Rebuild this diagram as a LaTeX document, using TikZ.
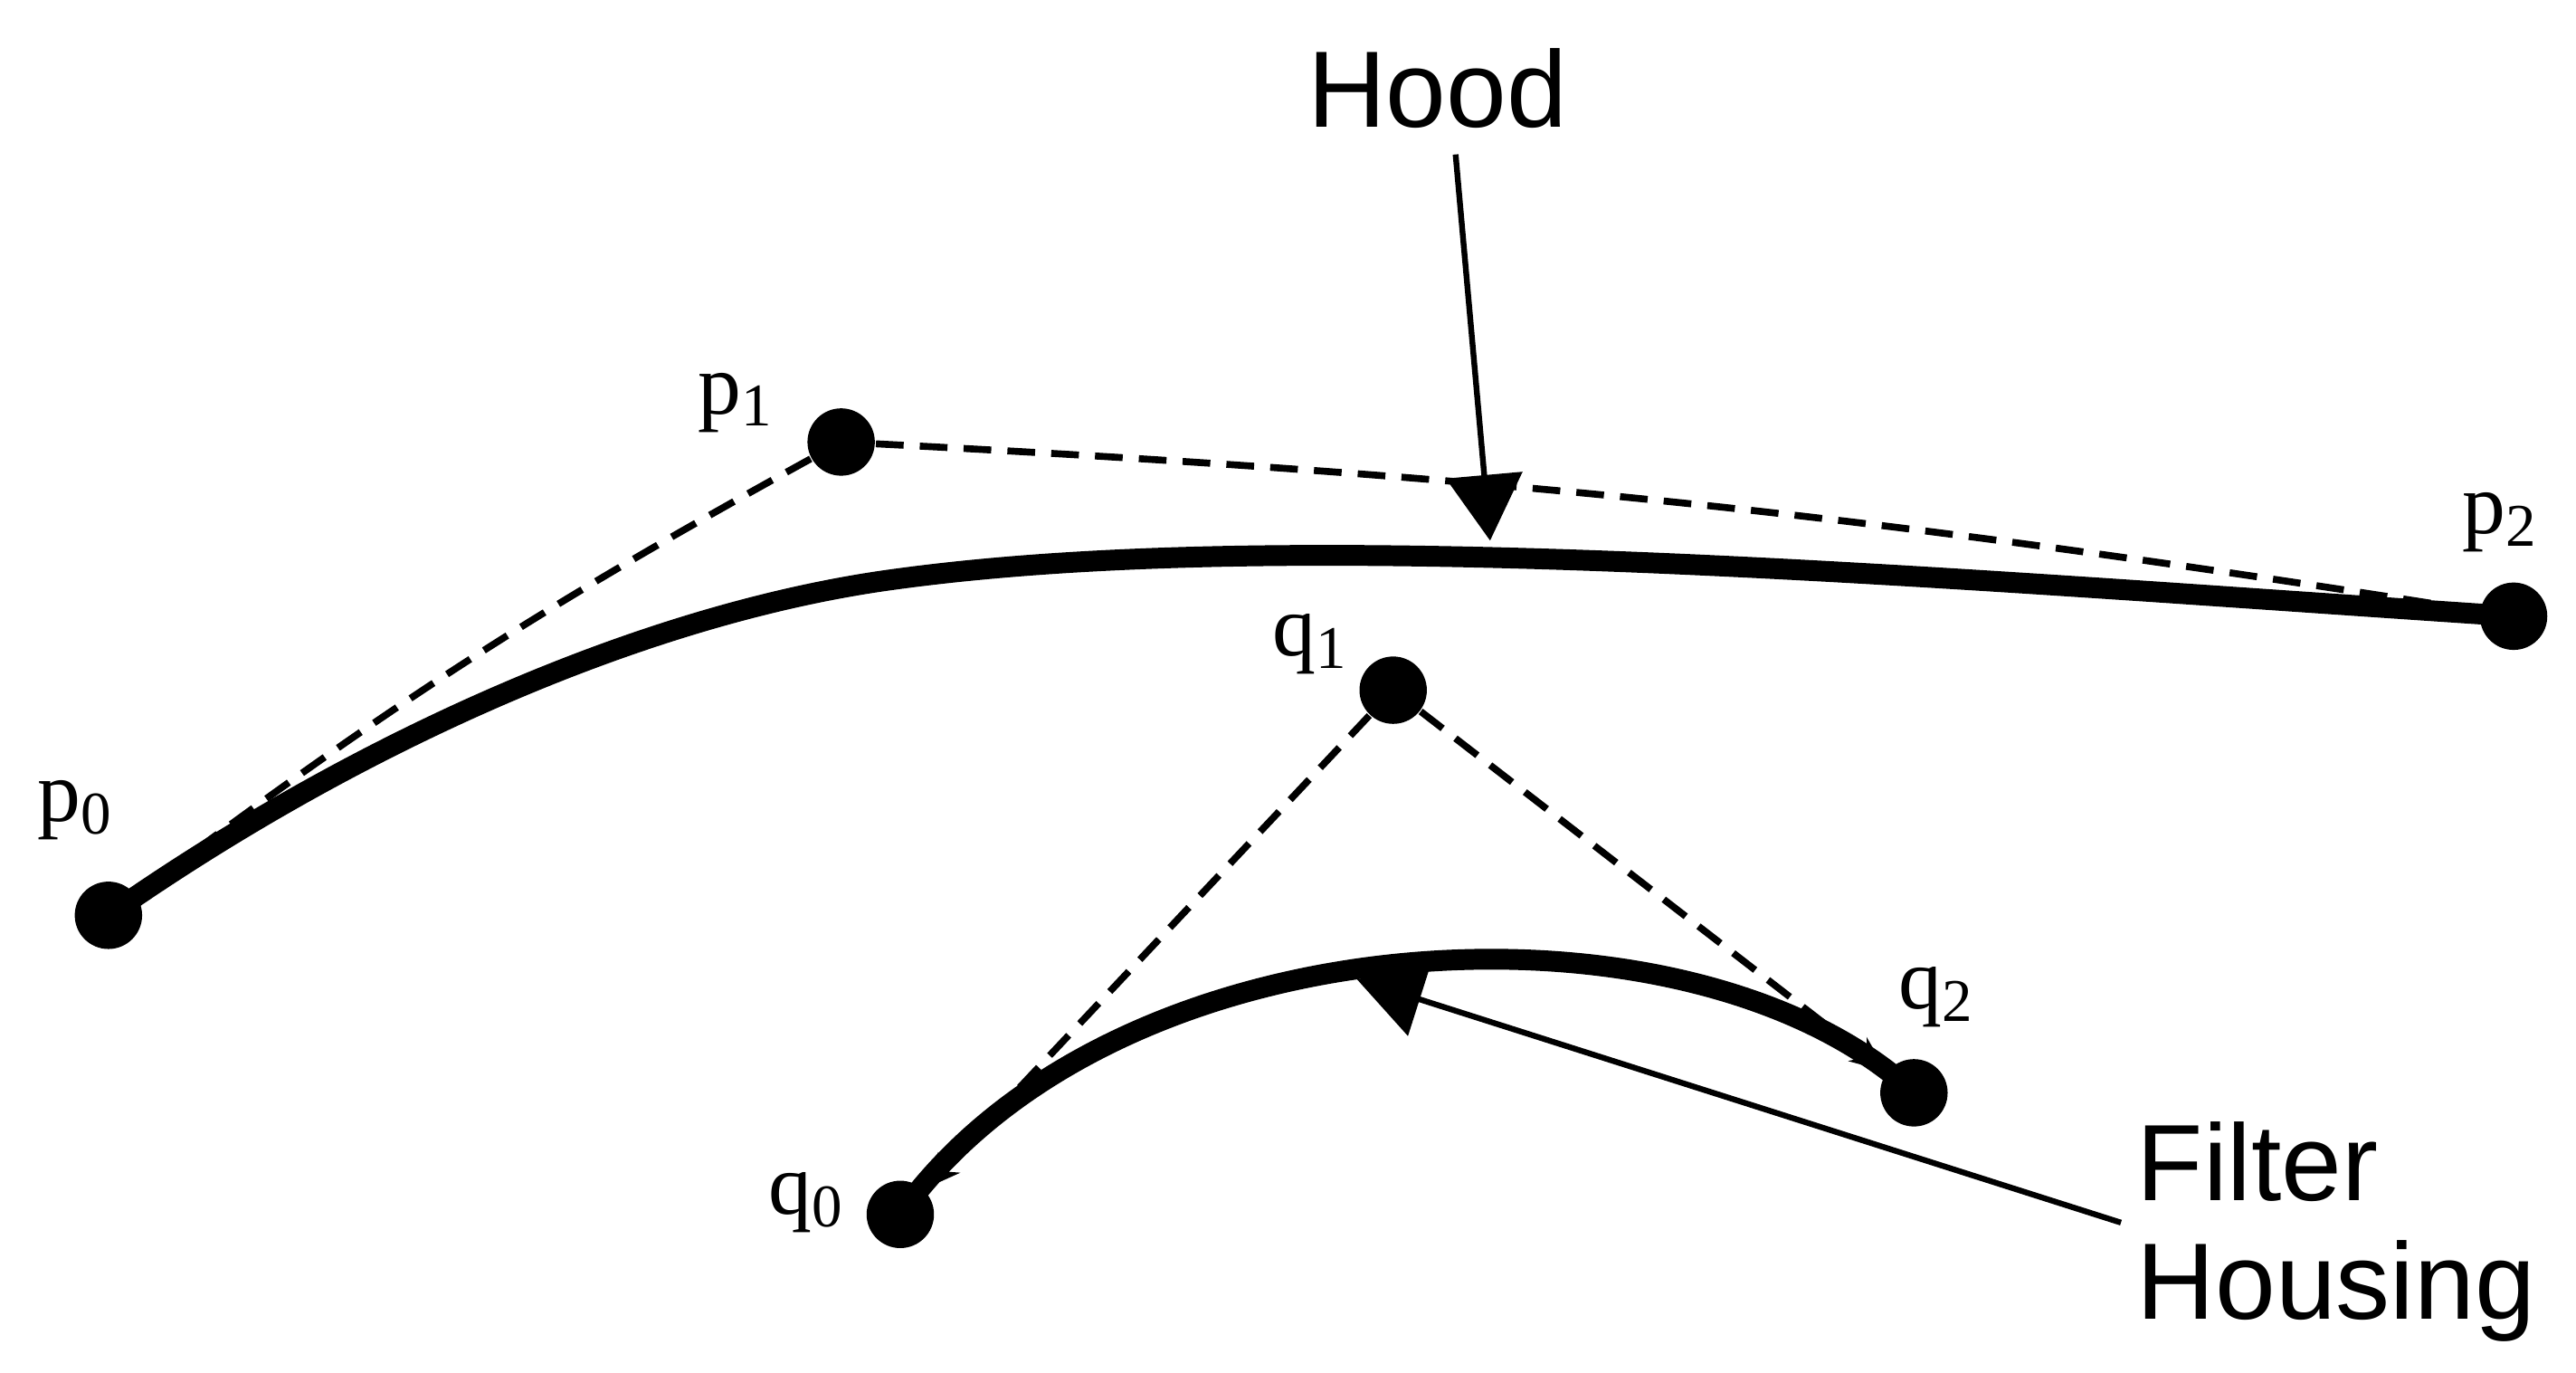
\documentclass[tikz,border=0pt]{standalone}
\usepackage{fontspec}
\setmainfont{Liberation Sans}
\newfontfamily\ptfont{Liberation Serif}
\usetikzlibrary{arrows.meta}

\tikzset{
  pt/.style={circle,fill,inner sep=0pt,minimum size=4.1mm},
  ptlabel/.style={font=\ptfont\fontsize{15}{17}\selectfont,inner sep=0pt},
  callout/.style={font=\fontsize{18.8}{20.5}\selectfont,align=left,inner sep=0pt},
  ctrl/.style={dash pattern=on 4.8pt off 2.8pt,line width=1.2pt},
  curve/.style={line width=3.6pt},
  leader/.style={line width=1pt,-{Triangle[length=4mm,width=4.6mm]}}
}

\begin{document}
\begin{tikzpicture}
    \useasboundingbox (0,0) rectangle (15.68,8.35);
    % control points
    \node[pt] (P0) at (0.66,2.78) {};
    \node[pt] (P1) at (5.12,5.66) {};
    \node[pt] (P2) at (15.30,4.60) {};
    \node[pt] (Q0) at (5.48,0.96) {};
    \node[pt] (Q1) at (8.48,4.15) {};
    \node[pt] (Q2) at (11.65,1.70) {};
    \node[ptlabel] (P0lbl) at (0.46,3.42) {p\textsubscript{0}};
    \node[ptlabel] (P1lbl) at (4.48,5.90) {p\textsubscript{1}};
    \node[ptlabel] (P2lbl) at (15.22,5.17) {p\textsubscript{2}};
    \node[ptlabel] (Q0lbl) at (4.91,1.03) {q\textsubscript{0}};
    \node[ptlabel] (Q1lbl) at (7.98,4.43) {q\textsubscript{1}};
    \node[ptlabel] (Q2lbl) at (11.79,2.28) {q\textsubscript{2}};
    % curves
    \draw[curve,line join=round] (P0.center) .. controls (2.16,3.83) and (3.91,4.61) .. (5.41,4.82)
      .. controls (7.91,5.17) and (11.81,4.83) .. (P2.center);
    \draw[curve] (Q0.center) .. controls (6.80,2.80) and (10.30,2.95) .. (Q2.center);
    \path[ctrl]
      (P1) edge[bend right=4] (P0)
      (P1) edge[bend left=3] (P2)
      (Q1) edge[-{Stealth[length=2.2mm,width=1.8mm]}] (Q0)
      (Q1) edge[-{Stealth[length=2.2mm,width=1.8mm]}] (Q2);
    % callouts
    \node[callout] (hood) at (8.75,7.81) {Hood};
    \node[callout,anchor=north west] (fh) at (13.00,1.53) {Filter\\Housing};
    \coordinate (hoodtail) at (8.86,7.41);
    \coordinate (hoodtip) at (9.07,5.06);
    \coordinate (fhtail) at (12.91,0.91);
    \coordinate (fhtip) at (8.26,2.39);
    \draw[leader] (hoodtail) -- (hoodtip);
    \draw[leader] (fhtail) -- (fhtip);
\end{tikzpicture}
\end{document}
